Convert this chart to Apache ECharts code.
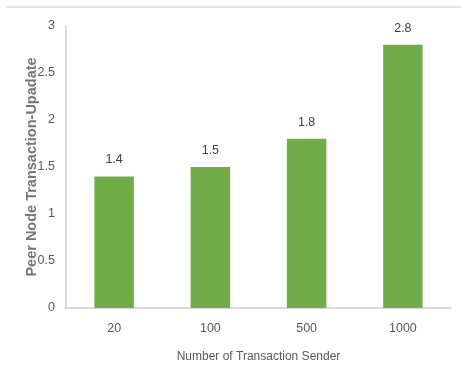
<!DOCTYPE html>
<html>
<head>
<meta charset="utf-8">
<script src="https://cdn.jsdelivr.net/npm/echarts@6/dist/echarts.min.js"></script>
<style>
  html, body { margin: 0; padding: 0; background: #fff; }
  #chart { width: 461px; height: 385px; }
</style>
</head>
<body>
<div id="chart"></div>
<script>
const senders = ['20', '100', '500', '1000']
const updateValues = [1.4, 1.5, 1.8, 2.8]

const chart = echarts.init(document.getElementById('chart'))

chart.setOption({
  animation: false,
  textStyle: { fontFamily: 'Liberation Sans' },
  grid: { left: 66, right: 10, top: 26, bottom: 77 },
  graphic: [
    {
      type: 'line',
      shape: { x1: 6, y1: 7, x2: 461, y2: 7 },
      style: { stroke: '#dcdcdc', lineWidth: 1.5 }
    }
  ],
  xAxis: {
    type: 'category',
    data: senders,
    name: 'Number of Transaction Sender',
    nameLocation: 'middle',
    nameGap: 43,
    nameTextStyle: { color: '#595959', fontSize: 12 },
    axisLine: { lineStyle: { color: '#d0d0d0', width: 1.5 } },
    axisTick: { show: false },
    axisLabel: { color: '#595959', fontSize: 12.5, margin: 14 }
  },
  yAxis: {
    type: 'value',
    min: 0,
    max: 3,
    interval: 0.5,
    name: 'Peer Node Transaction-Upadate',
    nameLocation: 'middle',
    nameMoveOverlap: false,
    nameGap: 27,
    nameTextStyle: { color: '#767676', fontSize: 14.5, fontWeight: 'bold' },
    axisLine: { show: true, lineStyle: { color: '#d0d0d0', width: 1.5 } },
    axisTick: { show: false },
    splitLine: { show: false },
    axisLabel: { color: '#595959', fontSize: 12.5, margin: 11 }
  },
  series: [
    {
      type: 'bar',
      data: updateValues,
      barWidth: '41%',
      itemStyle: { color: '#70ad47' },
      label: {
        show: true,
        position: 'top',
        distance: 10,
        color: '#404040',
        fontSize: 12.5
      }
    }
  ]
})
</script>
</body>
</html>
